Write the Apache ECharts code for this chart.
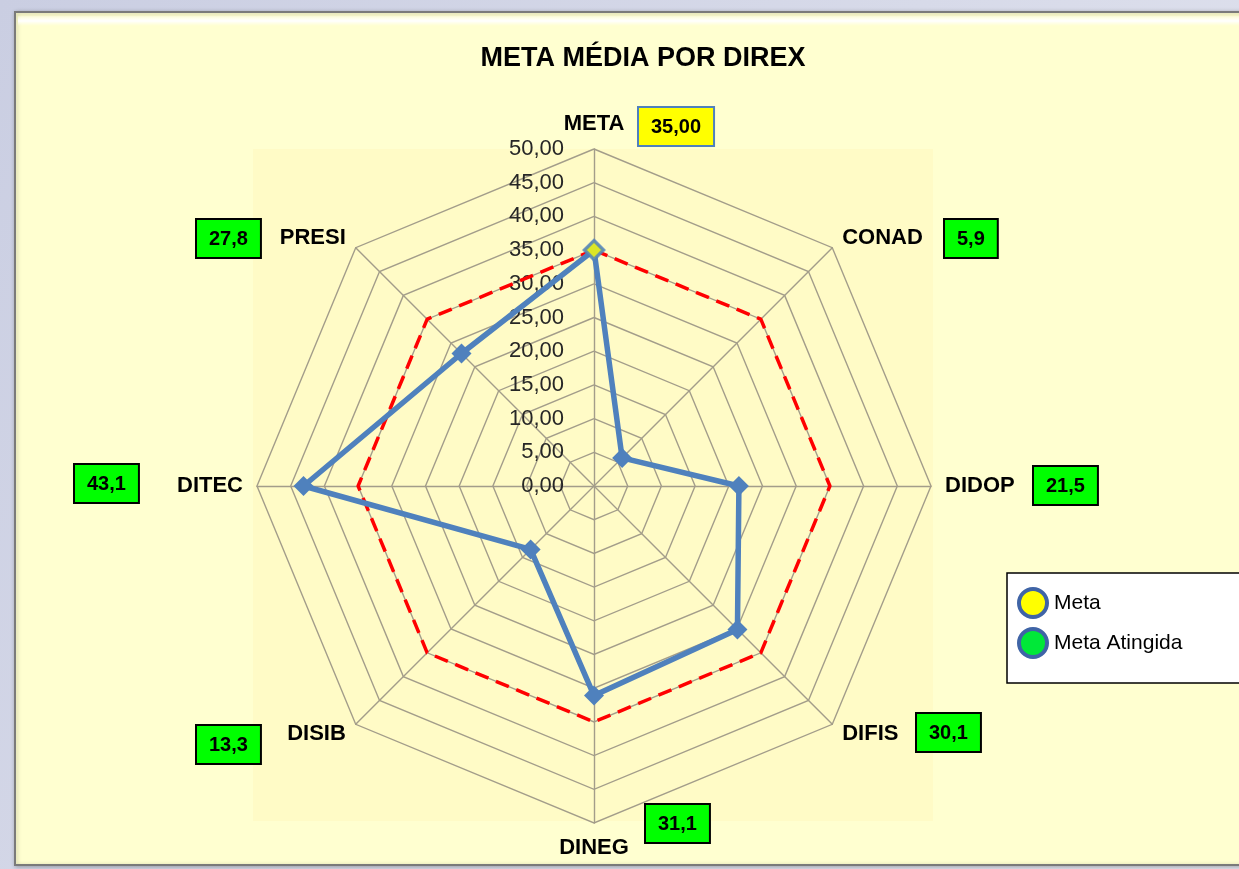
<!DOCTYPE html>
<html>
<head>
<meta charset="utf-8">
<script src="https://cdn.jsdelivr.net/npm/echarts@6/dist/echarts.min.js"></script>
<style>
    html, body { margin: 0; padding: 0; }
    #chart { width: 1239px; height: 869px; }
</style>
</head>
<body>
<div id="chart"></div>
<script>
// radar axes, listed counter-clockwise from the top (echarts radar order)
const categories = ['META', 'PRESI', 'DITEC', 'DISIB', 'DINEG', 'DIFIS', 'DIDOP', 'CONAD'];
const atingida = [35.0, 27.8, 43.1, 13.3, 31.1, 30.1, 21.5, 5.9];
const meta = [35, 35, 35, 35, 35, 35, 35, 35];
const metaValue = 35;
const axisMax = 50;
const axisStep = 5;

const font = 'Liberation Sans';
const CX = 594, CY = 486, R = 337;

function fmt(v, d) {
    return v.toFixed(d).replace('.', ',');
}

// value boxes next to each axis name (x, y of the box's top-left)
const boxPos = {
    META: [637, 106], PRESI: [195, 218], DITEC: [73, 463], DISIB: [195, 724],
    DINEG: [644, 803], DIFIS: [915, 712], DIDOP: [1032, 465], CONAD: [943, 218]
};

let boxes = categories.map((c, i) => {
    let isMeta = i === 0;
    return {
        type: 'text',
        left: boxPos[c][0],
        top: boxPos[c][1],
        z: 20,
        style: {
            text: fmt(atingida[i], isMeta ? 2 : 1),
            font: 'bold 20px "' + font + '"',
            fill: '#000',
            backgroundColor: isMeta ? '#FFFF00' : '#00FF00',
            borderColor: isMeta ? '#4F81BD' : '#000',
            borderWidth: 2,
            padding: [9, 12, 8, 12]
        }
    }
});

let chart = echarts.init(document.getElementById('chart'));
chart.setOption({
    backgroundColor: {
        type: 'linear', x: 0, y: 0, x2: 1, y2: 1,
        colorStops: [{offset: 0, color: '#CACEE2'}, {offset: 1, color: '#E4E6F0'}]
    },
    animation: false,
    title: {
        text: 'META MÉDIA POR DIREX',
        left: 638,
        top: 40,
        textAlign: 'center',
        textStyle: {fontFamily: font, fontWeight: 'bold', fontSize: 27, color: '#000'}
    },
    graphic: [
        {
            type: 'rect', z: -10,
            shape: {x: 15, y: 12, width: 1240, height: 853},
            style: {fill: '#FFFFD0', stroke: '#7A7A7A', lineWidth: 2,
                shadowColor: 'rgba(0,0,0,0.25)', shadowBlur: 4, shadowOffsetX: 1, shadowOffsetY: 1}
        },
        {
            type: 'rect', z: -9,
            shape: {x: 18, y: 16, width: 1230, height: 10},
            style: {fill: {type: 'linear', x: 0, y: 0, x2: 0, y2: 1,
                colorStops: [{offset: 0, color: 'rgba(255,255,255,0.2)'}, {offset: 0.5, color: 'rgba(255,255,255,1)'}, {offset: 1, color: 'rgba(255,255,240,0)'}]}}
        },
        {
            type: 'rect', z: -8,
            shape: {x: 253, y: 149, width: 680, height: 672},
            style: {fill: '#FFFBC6'}
        }
    ].concat(boxes),
    legend: {
        orient: 'vertical',
        left: 1007,
        top: 573,
        backgroundColor: '#fff',
        borderColor: '#000',
        borderWidth: 1.5,
        padding: [14, 90, 24, 10],
        itemWidth: 28,
        itemHeight: 28,
        itemGap: 8,
        textStyle: {fontFamily: font, fontSize: 21, color: '#000', padding: [0, 0, 0, 2]},
        data: [
            {name: 'Meta', icon: 'circle', itemStyle: {color: '#FFFF00', borderColor: '#3F64A6', borderWidth: 4}},
            {name: 'Meta Atingida', icon: 'circle', itemStyle: {color: '#00E838', borderColor: '#3F64A6', borderWidth: 4}}
        ]
    },
    radar: {
        center: [CX, CY],
        radius: R,
        startAngle: 90,
        shape: 'polygon',
        splitNumber: axisMax / axisStep,
        nameGap: 14,
        indicator: categories.map(c => ({name: c, min: 0, max: axisMax})),
        axisName: {color: '#000', fontFamily: font, fontWeight: 'bold', fontSize: 22},
        splitArea: {show: false},
        splitLine: {lineStyle: {color: '#A39D8A', width: 1.4}},
        axisLine: {lineStyle: {color: '#A39D8A', width: 1.4}},
        axisTick: {show: false},
        axisLabel: {show: false}
    },
    polar: {center: [CX, CY], radius: R},
    angleAxis: {type: 'value', min: 0, max: 360, startAngle: 90, show: false},
    radiusAxis: {
        type: 'value',
        min: 0,
        max: axisMax,
        interval: axisStep,
        axisLine: {show: false},
        axisTick: {show: false},
        splitLine: {show: false},
        axisLabel: {
            margin: 30,
            fontFamily: font,
            fontSize: 22,
            color: '#262626',
            formatter: v => fmt(v, 2)
        }
    },
    series: [
        {
            name: 'Meta',
            type: 'radar',
            symbol: 'none',
            itemStyle: {color: '#FFFF00'},
            lineStyle: {color: '#FF0000', width: 3.5, type: [14, 8]},
            data: [{value: meta}]
        },
        {
            name: 'Meta Atingida',
            type: 'radar',
            symbol: 'diamond',
            symbolSize: 20,
            z: 3,
            itemStyle: {color: '#4F81BD'},
            lineStyle: {color: '#4F81BD', width: 5.5, type: 'solid'},
            data: [{value: atingida}]
        },
        {
            name: 'ponto meta',
            type: 'scatter',
            coordinateSystem: 'polar',
            symbol: 'diamond',
            symbolSize: 19,
            z: 5,
            itemStyle: {color: '#FFFF00', borderColor: '#4F81BD', borderWidth: 3.5},
            data: [[metaValue, 0]]
        }
    ]
});
</script>
</body>
</html>
